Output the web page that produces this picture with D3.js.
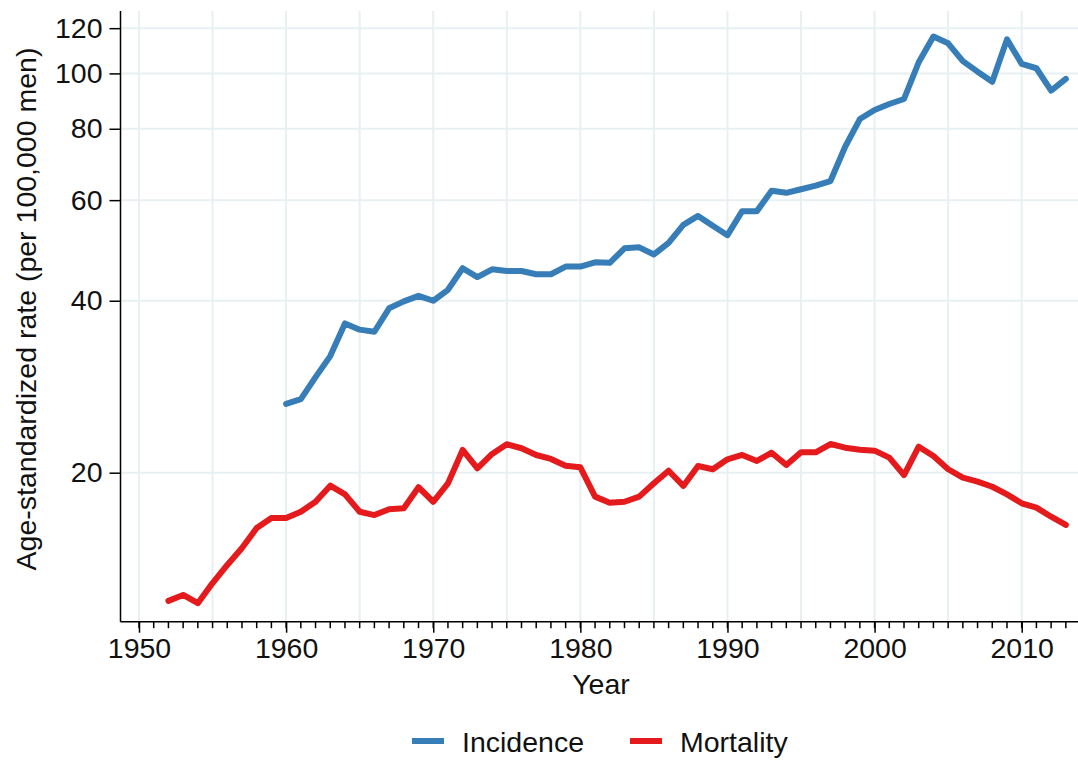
<!DOCTYPE html>
<html><head><meta charset="utf-8">
<script src="https://cdn.jsdelivr.net/npm/d3@7"></script>
<style>
body{margin:0;background:#fff;}
svg text{font-family:"Liberation Sans",Arial,Helvetica,sans-serif;fill:#111;}
</style></head>
<body><svg id="chart" width="1078" height="760"></svg>
<script>
const incidenceYears = d3.range(1960, 2014);
const incidence = [26.4,26.9,29.4,32.0,36.5,35.6,35.3,38.8,39.9,40.8,40.0,41.8,45.6,44.0,45.4,45.1,45.1,44.5,44.5,45.9,45.9,46.7,46.6,49.4,49.6,48.2,50.5,54.3,56.3,54.1,52.1,57.4,57.4,62.3,61.8,62.7,63.6,64.8,74.4,83.2,86.3,88.4,90.2,104.6,116.0,112.9,105.1,100.7,96.7,114.7,103.9,102.1,93.3,97.8];
const mortalityYears = d3.range(1952, 2014);
const mortality = [11.93,12.22,11.82,12.82,13.79,14.76,16.0,16.66,16.66,17.09,17.79,18.98,18.33,17.09,16.86,17.26,17.33,18.86,17.79,19.16,21.92,20.36,21.57,22.43,22.07,21.48,21.14,20.57,20.44,18.16,17.72,17.79,18.16,19.16,20.16,18.96,20.55,20.28,21.11,21.48,20.97,21.68,20.63,21.71,21.71,22.45,22.12,21.94,21.86,21.25,19.81,22.21,21.39,20.28,19.6,19.29,18.9,18.33,17.68,17.37,16.75,16.2];
const yTicks = [20,40,60,80,100,120];
const xTicks = [1950,1960,1970,1980,1990,2000,2010];
const xGrid = [1950,1955,1960,1965,1970,1975,1980,1985,1990,1995,2000,2005,2010];
const seriesNames = ["Incidence","Mortality"];
const seriesColors = ["#377eb8","#e41a1c"];

const svg = d3.select("#chart");
const L = 120.5, R = 1078, T = 11, B = 621.7;
const FS = 28.5;
const x = d3.scaleLinear().domain([1950, 2010]).range([139, 1021.7]);
const y = d3.scaleLog().domain([10.97, 128.6]).range([B, T]);

// gridlines
const g = svg.append("g");
g.selectAll(".vg").data(xGrid).join("line")
  .attr("x1", d=>x(d)).attr("x2", d=>x(d)).attr("y1", T).attr("y2", B)
  .attr("stroke", "#e8f0f2").attr("stroke-width", 2);
g.selectAll(".hg").data(yTicks).join("line")
  .attr("x1", L).attr("x2", R).attr("y1", d=>y(d)).attr("y2", d=>y(d))
  .attr("stroke", "#e8f0f2").attr("stroke-width", 2);

// lines
const line = (yrs) => d3.line().x((d,i)=>x(yrs[i])).y(d=>y(d));
svg.append("path").datum(incidence).attr("d", line(incidenceYears))
  .attr("fill","none").attr("stroke",seriesColors[0]).attr("stroke-width",6)
  .attr("stroke-linejoin","round").attr("stroke-linecap","round");
svg.append("path").datum(mortality).attr("d", line(mortalityYears))
  .attr("fill","none").attr("stroke",seriesColors[1]).attr("stroke-width",6)
  .attr("stroke-linejoin","round").attr("stroke-linecap","round");

// y axis
const yAxis = svg.append("g").attr("transform",`translate(${L},0)`)
  .call(d3.axisLeft(y).tickValues(yTicks).tickFormat(d3.format("d")).tickSize(11).tickPadding(7).tickSizeOuter(0));
yAxis.select(".domain").attr("stroke","#000").attr("stroke-width",1.5).attr("d",`M0,${T}V${B}`);
yAxis.selectAll(".tick line").attr("stroke","#000").attr("stroke-width",1.5);
yAxis.selectAll(".tick text").attr("font-size",FS).attr("font-family","Liberation Sans, Arial, sans-serif").attr("fill","#111");

// x axis minor ticks
const minor = d3.range(1950, 2014);
svg.append("g").selectAll("line").data(minor).join("line")
  .attr("x1",d=>x(d)).attr("x2",d=>x(d)).attr("y1",B).attr("y2",B+6.5)
  .attr("stroke","#000").attr("stroke-width",1.5);
const xAxis = svg.append("g").attr("transform",`translate(0,${B})`)
  .call(d3.axisBottom(x).tickValues(xTicks).tickFormat(d3.format("d")).tickSize(11).tickPadding(5).tickSizeOuter(0));
xAxis.select(".domain").attr("stroke","#000").attr("stroke-width",1.5).attr("d",`M${L},0H${R}`);
xAxis.selectAll(".tick line").attr("stroke","#000").attr("stroke-width",1.5);
xAxis.selectAll(".tick text").attr("font-size",FS).attr("font-family","Liberation Sans, Arial, sans-serif").attr("fill","#111");

// axis titles
svg.append("text").attr("x", 601).attr("y", 694).attr("text-anchor","middle")
  .attr("font-size",FS).text("Year");
svg.append("text").attr("transform","translate(36,309) rotate(-90)").attr("text-anchor","middle")
  .attr("font-size",FS).text("Age-standardized rate (per 100,000 men)");

// legend
const leg = [{x1:412,x2:444,tx:462},{x1:630,x2:662,tx:680}];
leg.forEach((d,i)=>{
  svg.append("line").attr("x1",d.x1).attr("x2",d.x2).attr("y1",741).attr("y2",741)
    .attr("stroke",seriesColors[i]).attr("stroke-width",6);
  svg.append("text").attr("x",d.tx).attr("y",751.5).attr("font-size",FS).text(seriesNames[i]);
});
</script></body></html>
